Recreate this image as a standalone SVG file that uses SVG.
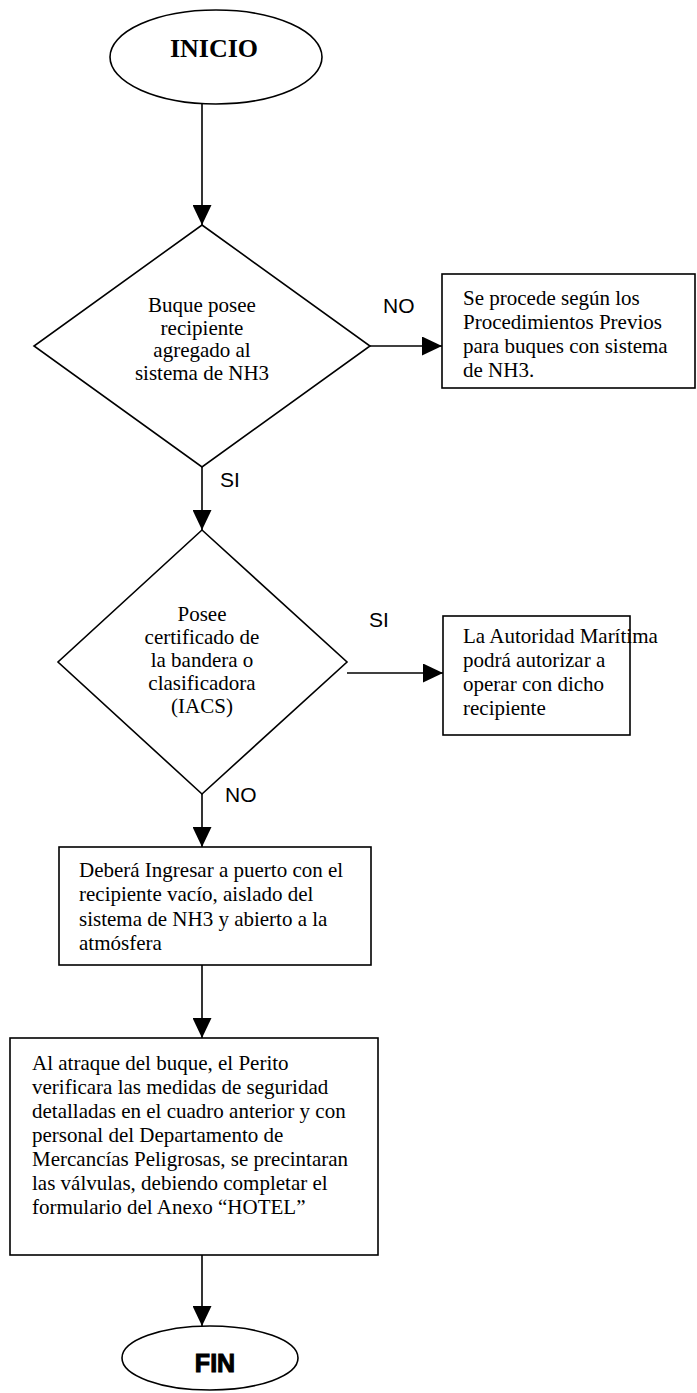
<svg xmlns="http://www.w3.org/2000/svg" width="697" height="1393" viewBox="0 0 697 1393">
  <style>
    .shape { fill: #ffffff; stroke: #000000; stroke-width: 1.6; }
    .edge { fill: none; stroke: #000000; stroke-width: 1.6; }
    .body { font-family: "Liberation Serif", "Times New Roman", serif; font-size: 21px; fill: #000000; }
    .mid { text-anchor: middle; }
    .lbl { font-family: "Liberation Sans", Arial, sans-serif; font-size: 21px; fill: #000000; }
    .term { font-family: "Liberation Serif", "Times New Roman", serif; font-size: 26px; font-weight: bold; fill: #000000; text-anchor: middle; }
    .fin { font-family: "Liberation Sans", Arial, sans-serif; font-size: 25px; font-weight: bold; fill: #000000; stroke: #000000; stroke-width: 1; text-anchor: middle; }
  </style>
  <defs>
    <marker id="arrow" markerUnits="userSpaceOnUse" markerWidth="20" markerHeight="19" refX="20" refY="9.5" orient="auto">
      <path d="M0,0 L20,9.5 L0,19 Z" fill="#000000"/>
    </marker>
  </defs>

  <rect width="697" height="1393" fill="#ffffff"/>

  <g id="connectors">
    <line class="edge" x1="202" y1="104" x2="202" y2="225" marker-end="url(#arrow)"/>
    <line class="edge" x1="370" y1="346" x2="442" y2="346" marker-end="url(#arrow)"/>
    <line class="edge" x1="202" y1="467" x2="202" y2="530" marker-end="url(#arrow)"/>
    <line class="edge" x1="347" y1="673" x2="443" y2="673" marker-end="url(#arrow)"/>
    <line class="edge" x1="202" y1="794" x2="202" y2="847" marker-end="url(#arrow)"/>
    <line class="edge" x1="202" y1="965" x2="202" y2="1038" marker-end="url(#arrow)"/>
    <line class="edge" x1="202" y1="1255" x2="202" y2="1326" marker-end="url(#arrow)"/>
    <text class="lbl" x="383" y="313">NO</text>
    <text class="lbl" x="220" y="487">SI</text>
    <text class="lbl" x="369" y="627">SI</text>
    <text class="lbl" x="225" y="802">NO</text>
  </g>

  <g id="inicio">
    <ellipse class="shape" cx="216" cy="57" rx="106" ry="47"/>
    <text class="term" x="214" y="57">INICIO</text>
  </g>

  <g id="decision-recipiente">
    <polygon class="shape" points="202,225 370,346 202,467 34,346"/>
    <text class="body mid" x="202" y="312">Buque posee</text>
    <text class="body mid" x="202" y="335">recipiente</text>
    <text class="body mid" x="202" y="357">agregado al</text>
    <text class="body mid" x="202" y="380">sistema de NH3</text>
  </g>

  <g id="procedimientos-previos">
    <rect class="shape" x="442" y="274" width="253" height="114"/>
    <text class="body" x="463" y="305">Se procede según los</text>
    <text class="body" x="463" y="329">Procedimientos Previos</text>
    <text class="body" x="463" y="353">para buques con sistema</text>
    <text class="body" x="463" y="377">de NH3.</text>
  </g>

  <g id="decision-certificado">
    <polygon class="shape" points="202,530 347,662 202,794 58,662"/>
    <text class="body mid" x="202" y="621">Posee</text>
    <text class="body mid" x="202" y="644">certificado de</text>
    <text class="body mid" x="202" y="667">la bandera o</text>
    <text class="body mid" x="202" y="690">clasificadora</text>
    <text class="body mid" x="202" y="713">(IACS)</text>
  </g>

  <g id="autoridad-maritima">
    <rect class="shape" x="443" y="616" width="187" height="119"/>
    <text class="body" x="463" y="643">La Autoridad Marítima</text>
    <text class="body" x="463" y="667">podrá autorizar a</text>
    <text class="body" x="463" y="691">operar con dicho</text>
    <text class="body" x="463" y="715">recipiente</text>
  </g>

  <g id="ingreso-puerto">
    <rect class="shape" x="59" y="847" width="312" height="118"/>
    <text class="body" x="79" y="877">Deberá Ingresar a puerto con el</text>
    <text class="body" x="79" y="901">recipiente vacío, aislado del</text>
    <text class="body" x="79" y="926">sistema de NH3 y abierto a la</text>
    <text class="body" x="79" y="950">atmósfera</text>
  </g>

  <g id="atraque">
    <rect class="shape" x="10" y="1038" width="368" height="217"/>
    <text class="body" x="32" y="1070">Al atraque del buque, el Perito</text>
    <text class="body" x="32" y="1094">verificara las medidas de seguridad</text>
    <text class="body" x="32" y="1118">detalladas en el cuadro anterior y con</text>
    <text class="body" x="32" y="1142">personal del Departamento de</text>
    <text class="body" x="32" y="1166">Mercancías Peligrosas, se precintaran</text>
    <text class="body" x="32" y="1190">las válvulas, debiendo completar el</text>
    <text class="body" x="32" y="1214">formulario del Anexo “HOTEL”</text>
  </g>

  <g id="fin">
    <ellipse class="shape" cx="210" cy="1358" rx="88" ry="32"/>
    <text class="fin" x="215" y="1372">FIN</text>
  </g>
</svg>
